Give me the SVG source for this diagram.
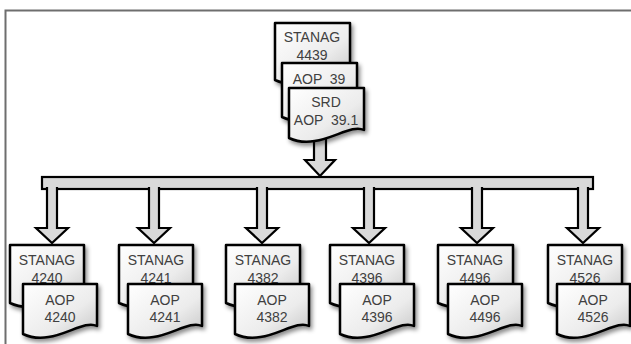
<svg xmlns="http://www.w3.org/2000/svg" width="631" height="344" viewBox="0 0 631 344">
<defs>
<linearGradient id="docfill" x1="0" y1="0" x2="1" y2="1">
<stop offset="0" stop-color="#ffffff"/>
<stop offset="0.6" stop-color="#ececec"/>
<stop offset="1" stop-color="#c4c4c4"/>
</linearGradient>
<filter id="shadow" x="-20%" y="-20%" width="150%" height="150%">
<feDropShadow dx="2" dy="3" stdDeviation="2" flood-color="#000" flood-opacity="0.45"/>
</filter>
<style>
.doc{fill:url(#docfill);stroke:#000;stroke-width:2.5;stroke-linejoin:round;filter:url(#shadow)}
.arrow{fill:#d9d9d9;stroke:#000;stroke-width:2.2;stroke-linejoin:miter}
.t{font-family:"Liberation Sans",Arial,sans-serif;font-size:14px;fill:#404040;text-anchor:middle;white-space:pre}
.frame{stroke:#6e6e6e;stroke-width:2;fill:none}
</style>
</defs>
<rect width="631" height="344" fill="#ffffff"/>
<path class="frame" d="M5.5,344 V10.5 H631"/>

<g id="connectors">
<path class="arrow" d="M314,130 V160 H305 L320,176 L335,160 H326 V130"/>
<rect class="arrow" x="42" y="177" width="551" height="12"/>
<path class="arrow" d="M47,187 V228 H36 L52,243 L68,228 H57 V187"/>
<path class="arrow" d="M149,187 V228 H138 L154,243 L170,228 H159 V187"/>
<path class="arrow" d="M257,187 V228 H246 L262,243 L278,228 H267 V187"/>
<path class="arrow" d="M364,187 V228 H353 L369,243 L385,228 H374 V187"/>
<path class="arrow" d="M472,187 V228 H461 L477,243 L493,228 H482 V187"/>
<path class="arrow" d="M578,187 V228 H567 L583,243 L599,228 H588 V187"/>
</g>

<g id="top-stack">
<g id="stanag4439">
<path class="doc" d="M275,23 H350 V72 C335,64 305,94 275,80 Z"/>
<text class="t" x="312" y="42">STANAG</text>
<text class="t" x="312" y="60">4439</text>
</g>
<g id="aop39">
<path class="doc" d="M282,63 H357 V109 C342,101 312,131 282,117 Z"/>
<text class="t" x="319" y="84" xml:space="preserve">AOP  39</text>
</g>
<g id="srd">
<path class="doc" d="M289,88 H364 V130 C349,122 319,152 289,138 Z"/>
<text class="t" x="326" y="107">SRD</text>
<text class="t" x="326" y="125" xml:space="preserve">AOP  39.1</text>
</g>
</g>

<g id="col4240">
<path class="doc" d="M10,245 H84 V295 C69,287 40,317 10,303 Z"/>
<text class="t" x="47" y="265">STANAG</text>
<text class="t" x="47" y="283">4240</text>
<path class="doc" d="M23,284 H97 V326 C82,318 53,348 23,334 Z"/>
<text class="t" x="60" y="305">AOP</text>
<text class="t" x="60" y="322">4240</text>
</g>
<g id="col4241">
<path class="doc" d="M119,245 H193 V295 C178,287 149,317 119,303 Z"/>
<text class="t" x="156" y="265">STANAG</text>
<text class="t" x="156" y="283">4241</text>
<path class="doc" d="M128,284 H202 V326 C187,318 158,348 128,334 Z"/>
<text class="t" x="165" y="305">AOP</text>
<text class="t" x="165" y="322">4241</text>
</g>
<g id="col4382">
<path class="doc" d="M226,245 H300 V295 C285,287 256,317 226,303 Z"/>
<text class="t" x="263" y="265">STANAG</text>
<text class="t" x="263" y="283">4382</text>
<path class="doc" d="M235,284 H309 V326 C294,318 265,348 235,334 Z"/>
<text class="t" x="272" y="305">AOP</text>
<text class="t" x="272" y="322">4382</text>
</g>
<g id="col4396">
<path class="doc" d="M330,245 H404 V295 C389,287 360,317 330,303 Z"/>
<text class="t" x="367" y="265">STANAG</text>
<text class="t" x="367" y="283">4396</text>
<path class="doc" d="M340,284 H414 V326 C399,318 370,348 340,334 Z"/>
<text class="t" x="377" y="305">AOP</text>
<text class="t" x="377" y="322">4396</text>
</g>
<g id="col4496">
<path class="doc" d="M438,245 H513 V295 C498,287 468,317 438,303 Z"/>
<text class="t" x="475" y="265">STANAG</text>
<text class="t" x="475" y="283">4496</text>
<path class="doc" d="M448,284 H522 V326 C507,318 478,348 448,334 Z"/>
<text class="t" x="485" y="305">AOP</text>
<text class="t" x="485" y="322">4496</text>
</g>
<g id="col4526">
<path class="doc" d="M548,245 H622 V295 C607,287 578,317 548,303 Z"/>
<text class="t" x="585" y="265">STANAG</text>
<text class="t" x="585" y="283">4526</text>
<path class="doc" d="M557,284 H630 V326 C615,318 586,348 557,334 Z"/>
<text class="t" x="593" y="305">AOP</text>
<text class="t" x="593" y="322">4526</text>
</g>
</svg>
